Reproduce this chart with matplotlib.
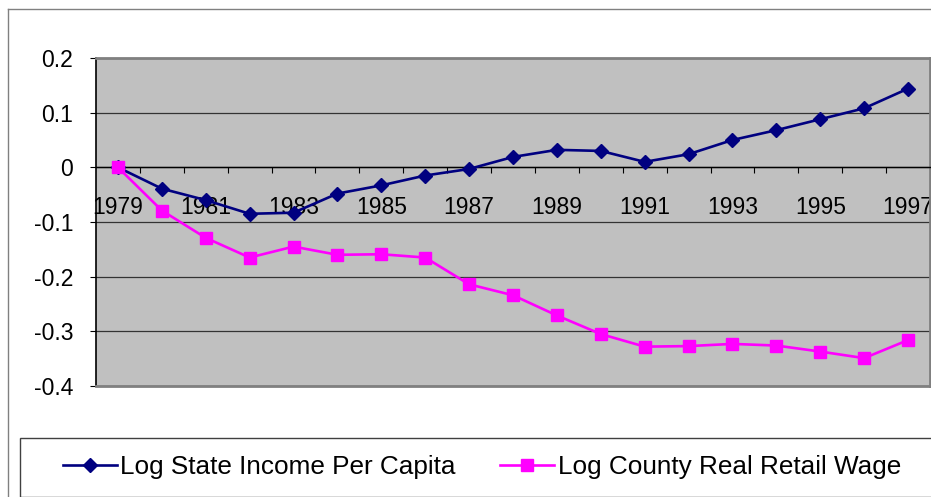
import matplotlib
matplotlib.use("Agg")
import matplotlib.pyplot as plt
from matplotlib.lines import Line2D
from matplotlib.patches import Rectangle
from matplotlib.ticker import FixedLocator, FixedFormatter, FuncFormatter
import numpy as np

plt.rcParams['font.family'] = ['Liberation Sans', 'DejaVu Sans']

years = list(range(1979, 1998))
income = [0.0, -0.039, -0.060, -0.085, -0.083, -0.048, -0.033, -0.015, -0.003,
          0.019, 0.032, 0.030, 0.010, 0.024, 0.050, 0.068, 0.088, 0.108, 0.144]
wage = [0.0, -0.079, -0.129, -0.165, -0.145, -0.160, -0.159, -0.165, -0.214,
        -0.234, -0.271, -0.305, -0.328, -0.327, -0.323, -0.326, -0.337, -0.349, -0.316]
yticks = [-0.4, -0.3, -0.2, -0.1, 0.0, 0.1, 0.2]
label_names = ["Log State Income Per Capita", "Log County Real Retail Wage"]

W, H = 931, 497
fig = plt.figure(figsize=(W / 100, H / 100), dpi=100)

# outer chart frame
fig.add_artist(Line2D([8 / W, 8 / W], [0, 1 - 9 / H], transform=fig.transFigure,
                      color="#808080", lw=1.0))
fig.add_artist(Line2D([8 / W, 1], [1 - 9 / H, 1 - 9 / H], transform=fig.transFigure,
                      color="#808080", lw=1.0))

ax = fig.add_axes([96 / W, (H - 386) / H, (930 - 96) / W, (386 - 58) / H])
ax.set_facecolor("#C0C0C0")

x = np.arange(len(years))
ax.plot(x, income, color="#000080", lw=1.9, marker="D", ms=7, zorder=3, clip_on=False,
        label=label_names[0])
ax.plot(x, wage, color="#FF00FF", lw=1.9, marker="s", ms=8.5, zorder=4, clip_on=False,
        label=label_names[1])

ax.set_xlim(-0.5, len(years) - 0.5)
ax.set_ylim(-0.4, 0.2)

# y axis
ax.set_yticks(yticks)
ax.yaxis.set_major_formatter(FuncFormatter(lambda v, p: "0" if abs(v) < 1e-9 else ("%g" % round(v, 1))))
ax.tick_params(axis="y", direction="out", length=4.3, width=0.8, color="black",
               pad=12, labelsize=16.5)
ax.yaxis.grid(True, color="#333333", lw=0.9)
ax.set_axisbelow(True)

# x axis at zero
ax.spines["bottom"].set_position(("data", 0))
ax.spines["bottom"].set_color("black")
ax.spines["bottom"].set_linewidth(1.0)
ax.spines["left"].set_color("black")
ax.spines["left"].set_linewidth(1.2)
for s in ("top", "right"):
    ax.spines[s].set_color("#808080")
    ax.spines[s].set_linewidth(2.0)
ax.axhline(-0.4, color="#808080", lw=2.0, zorder=2.6, clip_on=False)

bounds = np.arange(len(years) + 1) - 0.5
ax.xaxis.set_major_locator(FixedLocator(bounds[1:-1]))
ax.xaxis.set_major_formatter(FixedFormatter([""] * (len(bounds) - 2)))
odd_idx = [i for i, yv in enumerate(years) if (yv - years[0]) % 2 == 0]
ax.xaxis.set_minor_locator(FixedLocator(odd_idx))
ax.xaxis.set_minor_formatter(FixedFormatter([str(years[i]) for i in odd_idx]))
ax.tick_params(axis="x", which="major", direction="out", length=4.3, width=0.8, color="black")
ax.tick_params(axis="x", which="minor", length=0, pad=20.5, labelsize=16.5)

# legend box
fig.add_artist(Rectangle((20 / W, 0.5 / H), 1.0, (H - 438 - 0.5) / H, transform=fig.transFigure,
                         fill=False, edgecolor="#404040", lw=1.0))
handles, labels = ax.get_legend_handles_labels()
fig.legend(handles, labels, loc="center left", bbox_to_anchor=(63 / W, 1 - 467 / H),
           ncol=2, frameon=False, fontsize=18.8, handlelength=2.05, handletextpad=0.15,
           columnspacing=1.7, borderpad=0, borderaxespad=0)

fig.savefig("out.png", dpi=100)
